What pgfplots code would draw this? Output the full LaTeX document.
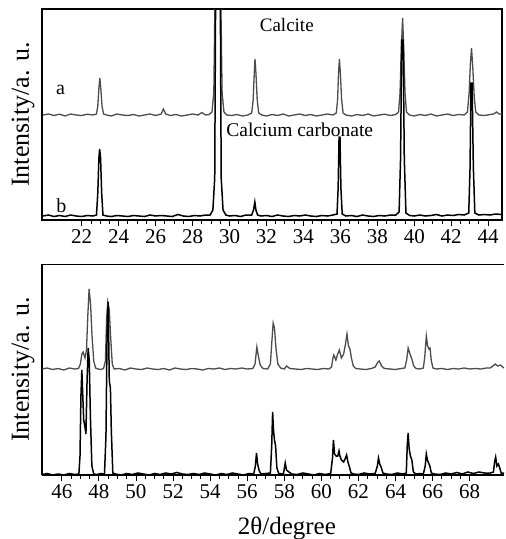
\documentclass[border=0pt]{standalone}
\usepackage{fontspec}
\setmainfont{Liberation Serif}
\usepackage{pgfplots}
\pgfplotsset{compat=1.18}
\begin{document}
\begin{tikzpicture}
\path[use as bounding box] (0,0) rectangle (506pt,-539pt);
\pgfplotsset{
  xrdstyle/.style={
    scale only axis,
    /pgf/number format/assume math mode=true,
    ytick=\empty,
    xtick distance=2,
    minor x tick num=3,
    tick align=outside,
    xtick pos=bottom,
    major tick length=6pt,
    minor tick length=3.5pt,
    every tick/.style={black, line width=0.9pt},
    axis line style={line width=1.3pt},
    tick label style={font=\fontsize{21}{23}\selectfont},
    clip=true,
  }
}
% ---------------- top panel ----------------
\begin{axis}[xrdstyle,
  at={(42pt,-220pt)}, anchor=south west,
  width=460pt, height=211pt,
  xmin=19.85, xmax=44.75, ymin=-2, ymax=209,
  xtick={22,24,...,44},
  ylabel={Intensity/a. u.},
  ylabel style={at={(axis description cs:-0.041,0.5)}, anchor=center, font=\fontsize{26}{28}\selectfont},
]
\addplot[color=black!70, line width=1.3pt] coordinates {
(19.9,103) (20.2,104) (20.5,102.5) (20.8,103.8) (21.1,102) (21.4,104) (21.7,103) (22.0,102.5) (22.3,103.8) (22.6,103)
(22.8,104) (22.87,112) (22.93,130) (22.98,140) (23.03,130) (23.1,112) (23.18,104) (23.35,103)
(23.6,102) (23.9,104) (24.2,103) (24.5,102.5) (24.8,103.5) (25.1,102) (25.4,103) (25.7,104) (26.0,102.5) (26.3,104)
(26.42,109) (26.55,104) (26.8,102.5) (27.1,103.5) (27.4,102) (27.7,103) (28.0,104) (28.3,103) (28.5,105.5) (28.7,103)
(28.9,103.5) (29.05,106) (29.15,125) (29.22,230) (29.52,230) (29.6,125) (29.7,106) (29.85,103)
(30.1,102.5) (30.4,103.5) (30.7,102) (31.0,103) (31.2,105) (31.28,118) (31.34,145) (31.38,159) (31.43,145) (31.5,118) (31.58,105) (31.75,103)
(32.0,102) (32.3,103.5) (32.6,102.5) (32.9,104) (33.2,102) (33.5,103) (33.8,104) (34.1,102.5) (34.4,103.5) (34.7,102) (35.0,103) (35.3,104) (35.6,103)
(35.78,105) (35.85,118) (35.9,145) (35.95,159) (36.0,145) (36.07,118) (36.15,105) (36.3,103)
(36.6,102) (36.9,103.5) (37.2,102.5) (37.5,104) (37.8,102) (38.1,103) (38.4,103.8) (38.7,102.5) (39.0,103.5)
(39.15,106) (39.23,125) (39.3,170) (39.37,200) (39.43,170) (39.5,125) (39.58,106) (39.75,103)
(40.0,102) (40.3,103.5) (40.6,102.5) (40.9,104) (41.2,102) (41.5,103) (41.8,104) (42.1,102.5) (42.4,103.5) (42.7,103)
(42.88,106) (42.97,125) (43.04,155) (43.1,170) (43.17,150) (43.25,120) (43.33,106) (43.5,103)
(43.8,102.5) (44.1,103.5) (44.3,104) (44.45,106) (44.6,104) (44.75,104)
};
\addplot[color=black, line width=1.5pt] coordinates {
(19.9,2) (20.2,3) (20.5,1.5) (20.8,2.5) (21.1,1.5) (21.4,3) (21.7,2) (22.0,1.5) (22.3,2.5) (22.6,2)
(22.8,3) (22.87,25) (22.93,60) (22.97,69) (23.02,60) (23.08,25) (23.15,3) (23.35,2)
(23.6,1.5) (23.9,2.5) (24.2,2) (24.5,1.5) (24.8,2.5) (25.1,2) (25.4,1.5) (25.7,3) (26.0,2) (26.3,2.5) (26.6,2) (26.9,1.5)
(27.2,3.5) (27.5,2) (27.8,1.5) (28.1,2.5) (28.4,2) (28.7,3) (28.95,3)
(29.1,8) (29.2,40) (29.25,230) (29.5,230) (29.55,40) (29.65,8) (29.8,3)
(30.0,2) (30.3,2.5) (30.6,1.5) (30.9,3) (31.2,3) (31.3,8) (31.37,16) (31.43,8) (31.52,3) (31.7,2)
(32.0,2.5) (32.3,1.5) (32.6,3) (32.9,2) (33.2,1.5) (33.5,2.5) (33.8,2) (34.1,3) (34.4,2) (34.7,1.5) (35.0,2.5) (35.3,2) (35.6,3)
(35.82,4) (35.88,30) (35.93,81) (35.98,81) (36.03,30) (36.1,4) (36.3,2)
(36.6,2.5) (36.9,1.5) (37.2,3) (37.5,2) (37.8,1.5) (38.1,2.5) (38.4,2) (38.7,3) (39.0,3)
(39.18,6) (39.26,60) (39.32,178) (39.4,178) (39.46,60) (39.55,5) (39.75,2.5)
(40.0,2) (40.3,3) (40.6,2) (40.9,2.5) (41.2,3.5) (41.5,2) (41.8,3) (42.1,2.5) (42.4,3.5) (42.7,3)
(42.95,5) (43.02,50) (43.07,135) (43.13,135) (43.2,50) (43.28,5) (43.5,3)
(43.8,3.5) (44.1,3) (44.4,4) (44.75,3.5)
};
\node[font=\fontsize{20}{22}\selectfont] at (axis cs:20.85,128) {a};
\node[font=\fontsize{20}{22}\selectfont] at (axis cs:20.9,12) {b};
\node[font=\fontsize{19}{21}\selectfont] at (axis cs:33.1,193) {Calcite};
\node[font=\fontsize{19.5}{21}\selectfont] at (axis cs:33.8,88) {Calcium carbonate};
\end{axis}
% ---------------- bottom panel ----------------
\begin{axis}[xrdstyle,
  at={(42pt,-475pt)}, anchor=south west,
  width=462pt, height=211pt,
  xmin=44.93, xmax=69.85, ymin=1, ymax=212,
  xtick={46,48,...,68},
  axis x line*=bottom, axis y line*=left,
  ylabel={Intensity/a. u.},
  ylabel style={at={(axis description cs:-0.041,0.5)}, anchor=center, font=\fontsize{26}{28}\selectfont},
  xlabel={2θ/degree},
  xlabel style={at={(axis description cs:0.53,0)}, anchor=center, yshift=-53pt, font=\fontsize{25}{27}\selectfont},
]
\draw[line width=1.3pt] (rel axis cs:0,1) -- (rel axis cs:1,1);
\addplot[color=black!70, line width=1.3pt] coordinates {
(44.95,107) (45.2,108) (45.5,106.5) (45.8,107.5) (46.1,106) (46.4,108) (46.7,107) (46.9,107.5)
(47.0,112) (47.08,122) (47.15,124) (47.25,118) (47.33,126) (47.4,160) (47.47,187) (47.55,172) (47.63,140) (47.72,115) (47.82,108) (47.95,107)
(48.1,106.5) (48.25,107.5) (48.35,115) (48.42,160) (48.48,174) (48.56,166) (48.63,140) (48.72,112) (48.82,107)
(49.1,107.5) (49.4,106) (49.7,108) (50.0,107) (50.3,106.5) (50.6,108) (50.9,107) (51.2,106.5) (51.5,107.5) (51.8,106) (52.1,108) (52.4,107)
(52.7,106.5) (53.0,107.5) (53.3,107) (53.6,106) (53.9,107.5) (54.2,107) (54.5,108) (54.8,106.5) (55.1,107.5) (55.4,107) (55.7,108) (56.0,107) (56.3,107.5)
(56.42,112) (56.52,129) (56.6,120) (56.7,111) (56.85,107.5)
(57.1,107) (57.25,112) (57.33,135) (57.4,153) (57.47,148) (57.55,128) (57.65,112) (57.8,108) (58.0,107) (58.12,110) (58.3,107.5)
(58.6,107) (58.9,106.5) (59.2,107.5) (59.5,107) (59.8,106.5) (60.1,107.5) (60.4,107) (60.55,109)
(60.62,118) (60.67,121) (60.78,116) (60.88,122) (60.97,126) (61.08,118) (61.2,122) (61.3,132) (61.38,142) (61.46,130) (61.54,127) (61.62,118) (61.72,110) (61.85,107.5)
(62.1,107) (62.4,106.5) (62.7,107.5) (62.9,109) (63.05,114) (63.12,115) (63.25,110) (63.4,107.5)
(63.7,107) (64.0,106.5) (64.3,107.5) (64.5,108) (64.6,116) (64.68,128) (64.78,122) (64.88,117) (64.98,110) (65.1,107.5)
(65.3,107) (65.5,108) (65.58,120) (65.66,140) (65.73,130) (65.8,127) (65.86,128) (65.93,115) (66.02,108) (66.2,107)
(66.5,107.5) (66.8,106.5) (67.1,107.5) (67.4,107) (67.7,108) (68.0,107) (68.3,107.5) (68.6,107) (68.9,108)
(69.1,108) (69.25,110) (69.38,112) (69.5,110) (69.65,111) (69.85,108)
};
\addplot[color=black, line width=1.5pt] coordinates {
(44.95,1.5) (45.2,2.5) (45.5,1) (45.8,2) (46.1,1) (46.4,2.5) (46.7,1.5) (46.92,2)
(46.98,20) (47.03,80) (47.08,106) (47.13,80) (47.18,56) (47.24,50) (47.3,42) (47.36,95) (47.42,128) (47.48,115) (47.54,60) (47.62,10) (47.72,2)
(47.9,1.5) (48.1,2.5) (48.3,2) (48.38,40) (48.44,140) (48.5,174) (48.56,95) (48.62,88) (48.67,45) (48.75,3) (48.9,2)
(49.2,1) (49.5,2.5) (49.8,1.5) (50.1,3) (50.4,2) (50.7,1) (51.0,2.5) (51.3,1.5) (51.6,3) (51.9,2) (52.2,3.5) (52.5,2) (52.8,1.5)
(53.1,2.5) (53.4,1.5) (53.7,3) (54.0,2) (54.3,1) (54.6,2.5) (54.9,1.5) (55.2,3) (55.5,2) (55.8,1) (56.1,2.5) (56.35,2)
(56.44,10) (56.5,23) (56.56,12) (56.65,5) (56.75,2)
(57.0,2.5) (57.25,3) (57.32,30) (57.37,64) (57.42,45) (57.47,36) (57.53,30) (57.6,8) (57.7,2.5)
(57.95,2) (58.05,13) (58.12,6) (58.25,4) (58.4,2)
(58.7,1.5) (59.0,3) (59.3,2) (59.6,1) (59.9,2.5) (60.2,1.5) (60.5,2.5)
(60.6,18) (60.65,36) (60.71,22) (60.8,20) (60.88,20) (60.95,25) (61.0,20) (61.08,16) (61.2,14) (61.3,18) (61.36,21) (61.43,14) (61.5,10) (61.6,3) (61.75,2)
(62.0,1.5) (62.3,3) (62.6,2) (62.9,2.5) (63.02,10) (63.08,18) (63.15,12) (63.22,9) (63.32,3) (63.5,2)
(63.8,1.5) (64.1,3) (64.4,2) (64.58,3) (64.63,30) (64.68,43) (64.73,28) (64.8,20) (64.88,16) (64.96,4) (65.1,2)
(65.3,2.5) (65.5,2) (65.6,10) (65.66,22) (65.72,16) (65.78,13) (65.85,10) (65.93,3) (66.1,2)
(66.4,1.5) (66.7,3) (67.0,2) (67.3,3.5) (67.6,2) (67.9,4) (68.2,2.5) (68.5,4) (68.8,3) (69.1,3) (69.28,4)
(69.35,15) (69.4,19) (69.47,10) (69.55,12) (69.62,8) (69.7,3) (69.85,3)
};
\end{axis}
\end{tikzpicture}
\end{document}
